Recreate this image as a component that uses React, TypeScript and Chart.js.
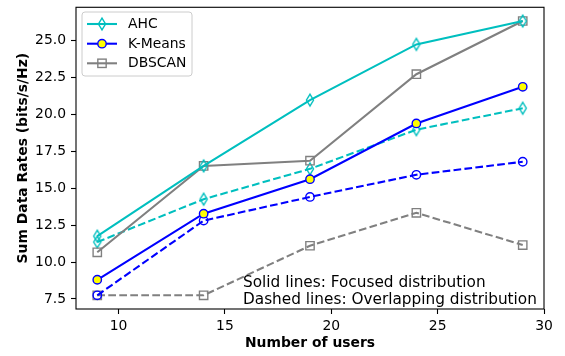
import { useEffect, useRef } from 'react';
import { Chart, registerables } from 'chart.js';

Chart.register(...registerables);

// ---- data ----
const users = [9, 14, 19, 24, 29];
const ahcFocused = [11.75, 16.5, 20.95, 24.72, 26.3];
const ahcOverlap = [11.35, 14.25, 16.3, 18.95, 20.4];
const kmFocused = [8.8, 13.27, 15.6, 19.37, 21.85];
const kmOverlap = [7.75, 12.8, 14.4, 15.9, 16.78];
const dbFocused = [10.66, 16.5, 16.85, 22.7, 26.3];
const dbOverlap = [7.75, 7.75, 11.1, 13.33, 11.15];

const xTicks = [10, 15, 20, 25, 30];
const yTicks = [7.5, 10, 12.5, 15, 17.5, 20, 22.5, 25];
const legendLabels = ['AHC', 'K-Means', 'DBSCAN'];
const noteLines = ['Solid lines: Focused distribution', 'Dashed lines: Overlapping distribution'];
const xTitle = 'Number of users';
const yTitle = 'Sum Data Rates (bits/s/Hz)';

// ---- styles ----
const FONT = "'DejaVu Sans', sans-serif";
const FS = 13.9;
const NOTE_FS = 15.3;
const CYAN = '#00BFBF';
const BLUE = '#0000FF';
const GRAY = '#808080';
const LW = 2.08;
const MEW = 1.39;
const DASH = [7.7, 3.3];

function makeDiamond(color: string): HTMLCanvasElement {
  const c = document.createElement('canvas');
  c.width = 12;
  c.height = 16;
  const g = c.getContext('2d')!;
  g.strokeStyle = color;
  g.lineWidth = MEW;
  g.beginPath();
  g.moveTo(6, 8 - 5.9);
  g.lineTo(6 + 3.55, 8);
  g.lineTo(6, 8 + 5.9);
  g.lineTo(6 - 3.55, 8);
  g.closePath();
  g.stroke();
  return c;
}

const toPts = (ys: number[]) => users.map((x, i) => ({ x, y: ys[i] }));

export default function App() {
  const ref = useRef<HTMLCanvasElement | null>(null);

  useEffect(() => {
    document.body.style.margin = '0';
    const canvas = ref.current!;
    const diamond = makeDiamond(CYAN);

    const allY = [...ahcFocused, ...ahcOverlap, ...kmFocused, ...kmOverlap, ...dbFocused, ...dbOverlap];
    const yLo = Math.min(...allY);
    const yHi = Math.max(...allY);
    const yPad = (yHi - yLo) * 0.05;
    const xPad = (users[users.length - 1] - users[0]) * 0.05;

    const base = { showLine: true, borderWidth: LW, pointBorderWidth: MEW, pointHoverRadius: 0, fill: false, tension: 0 };

    const datasets: any[] = [
      { ...base, label: legendLabels[0], data: toPts(ahcFocused), borderColor: CYAN, pointStyle: diamond, pointBorderColor: CYAN, pointBackgroundColor: 'rgba(0,0,0,0)' },
      { ...base, label: legendLabels[1], data: toPts(kmFocused), borderColor: BLUE, pointStyle: 'circle', pointRadius: 4.2, pointBorderColor: BLUE, pointBackgroundColor: '#FFFF00' },
      { ...base, label: legendLabels[2], data: toPts(dbFocused), borderColor: GRAY, pointStyle: 'rect', pointRadius: 5.9, pointBorderColor: GRAY, pointBackgroundColor: 'rgba(0,0,0,0)' },
      { ...base, label: legendLabels[0] + ' overlap', data: toPts(ahcOverlap), borderColor: CYAN, borderDash: DASH, pointStyle: diamond, pointBorderColor: CYAN, pointBackgroundColor: 'rgba(0,0,0,0)' },
      { ...base, label: legendLabels[1] + ' overlap', data: toPts(kmOverlap), borderColor: BLUE, borderDash: DASH, pointStyle: 'circle', pointRadius: 4.2, pointBorderColor: BLUE, pointBackgroundColor: 'rgba(0,0,0,0)' },
      { ...base, label: legendLabels[2] + ' overlap', data: toPts(dbOverlap), borderColor: GRAY, borderDash: DASH, pointStyle: 'rect', pointRadius: 5.9, pointBorderColor: GRAY, pointBackgroundColor: 'rgba(0,0,0,0)' },
    ];

    const framePlugin = {
      id: 'frameAndExtras',
      afterDraw(chart: any) {
        const { ctx, chartArea: a } = chart;
        ctx.save();
        // frame
        ctx.strokeStyle = '#000';
        ctx.lineWidth = 1.1;
        ctx.strokeRect(a.left, a.top, a.right - a.left, a.bottom - a.top);

        // note text
        ctx.fillStyle = '#000';
        ctx.font = `${NOTE_FS}px ${FONT}`;
        ctx.textAlign = 'left';
        ctx.textBaseline = 'alphabetic';
        ctx.fillText(noteLines[0], 243, 287.3);
        ctx.fillText(noteLines[1], 243, 303.5);

        // legend
        const bx = 82, by = 12, bw = 110, bh = 64, r = 3;
        ctx.beginPath();
        ctx.moveTo(bx + r, by);
        ctx.arcTo(bx + bw, by, bx + bw, by + bh, r);
        ctx.arcTo(bx + bw, by + bh, bx, by + bh, r);
        ctx.arcTo(bx, by + bh, bx, by, r);
        ctx.arcTo(bx, by, bx + bw, by, r);
        ctx.closePath();
        ctx.fillStyle = 'rgba(255,255,255,0.8)';
        ctx.fill();
        ctx.strokeStyle = '#cccccc';
        ctx.lineWidth = 1;
        ctx.stroke();

        const rows = [24, 43.7, 63.3];
        for (let i = 0; i < 3; i++) {
          const ds = chart.data.datasets[i];
          const y = rows[i];
          ctx.beginPath();
          ctx.setLineDash([]);
          ctx.strokeStyle = ds.borderColor;
          ctx.lineWidth = LW;
          ctx.moveTo(87, y);
          ctx.lineTo(117, y);
          ctx.stroke();
          const mx = 102;
          if (ds.pointStyle === 'circle') {
            ctx.beginPath();
            ctx.arc(mx, y, ds.pointRadius, 0, Math.PI * 2);
            ctx.fillStyle = ds.pointBackgroundColor;
            ctx.fill();
            ctx.lineWidth = MEW;
            ctx.strokeStyle = ds.pointBorderColor;
            ctx.stroke();
          } else if (ds.pointStyle === 'rect') {
            const s = ds.pointRadius * Math.SQRT1_2;
            ctx.lineWidth = MEW;
            ctx.strokeStyle = ds.pointBorderColor;
            ctx.strokeRect(mx - s, y - s, 2 * s, 2 * s);
          } else {
            const img = ds.pointStyle as HTMLCanvasElement;
            ctx.drawImage(img, mx - img.width / 2, y - img.height / 2);
          }
          ctx.fillStyle = '#000';
          ctx.font = `${FS}px ${FONT}`;
          ctx.textAlign = 'left';
          ctx.textBaseline = 'middle';
          ctx.fillText(legendLabels[i], 128, y + 0.5);
        }
        ctx.restore();
      },
    };

    const zeroPad = (s: any) => {
      s.paddingTop = 0;
      s.paddingBottom = 0;
      s.paddingLeft = 0;
      s.paddingRight = 0;
    };

    const chart = new Chart(canvas, {
      type: 'scatter',
      data: { datasets },
      plugins: [framePlugin],
      options: {
        animation: false,
        responsive: false,
        devicePixelRatio: 1,
        events: [],
        layout: { padding: { top: 5, right: 21, left: 0, bottom: 0 } },
        plugins: { legend: { display: false }, tooltip: { enabled: false } },
        scales: {
          x: {
            type: 'linear',
            min: users[0] - xPad,
            max: users[users.length - 1] + xPad,
            afterBuildTicks: (s: any) => { s.ticks = xTicks.map((v) => ({ value: v })); },
            afterFit: (s: any) => { s.height = 47; zeroPad(s); },
            border: { display: false },
            grid: { display: true, drawOnChartArea: false, drawTicks: true, tickLength: 5, tickColor: '#000', tickWidth: 1.1, color: '#000' },
            ticks: { autoSkip: false, maxRotation: 0, padding: 4, color: '#000', font: { family: FONT, size: FS }, callback: (v: any) => String(v) },
            title: { display: true, text: xTitle, color: '#000', font: { family: FONT, size: FS, weight: 'bold' }, padding: { top: 0, bottom: 4.7 } },
          },
          y: {
            type: 'linear',
            min: yLo - yPad,
            max: yHi + yPad,
            afterBuildTicks: (s: any) => { s.ticks = yTicks.map((v) => ({ value: v })); },
            afterFit: (s: any) => { s.width = 76; zeroPad(s); },
            border: { display: false },
            grid: { display: true, drawOnChartArea: false, drawTicks: true, tickLength: 5, tickColor: '#000', tickWidth: 1.1, color: '#000' },
            ticks: { autoSkip: false, padding: 5, color: '#000', font: { family: FONT, size: FS }, callback: (v: any) => Number(v).toFixed(1) },
            title: { display: true, text: yTitle, color: '#000', font: { family: FONT, size: FS, weight: 'bold' }, padding: { top: 15.2, bottom: 0 } },
          },
        },
      } as any,
    });

    return () => chart.destroy();
  }, []);

  return (
    <div style={{ position: 'fixed', left: 0, top: 0, width: 565, height: 356, background: '#fff' }}>
      <canvas ref={ref} width={565} height={356} />
    </div>
  );
}
